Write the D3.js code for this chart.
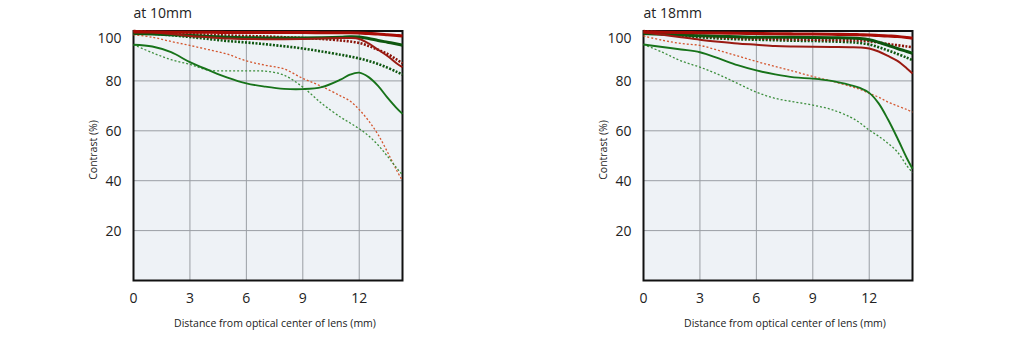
<!DOCTYPE html>
<html>
<head>
<meta charset="utf-8">
<script src="https://cdn.jsdelivr.net/npm/d3@7"></script>
<style>
  html, body { margin: 0; padding: 0; background: #ffffff; }
  svg { display: block; }
  text { font-family: "Open Sans", "Noto Sans", "DejaVu Sans", sans-serif; fill: #222; }
</style>
</head>
<body>
<svg id="chart" width="1021" height="338"></svg>
<script>
// ---------------- data ----------------
const titles = ["at 10mm", "at 18mm"];
const xTicks = [0, 3, 6, 9, 12];
const yTicks = [20, 40, 60, 80, 100];
const xMax = 14.3;
const xLabel = "Distance from optical center of lens (mm)";
const yLabel = "Contrast (%)";

// sample positions (mm from optical center)
const dist = [0, 1, 2, 3, 4, 5, 6, 7, 8, 9, 10, 11, 11.5, 12, 12.5, 13, 13.5, 14, 14.3];

// at 10mm
const w10_10S_f8  = [99.6,99.6,99.5,99.5,99.5,99.4,99.4,99.4,99.4,99.4,99.3,99.3,99.3,99.2,99,98.8,98.5,98.2,98];
const w10_10S     = [100,99.5,98.8,98,97.5,97,96.8,96.7,96.7,96.8,97,97.2,97.2,96.8,95,92.5,90,87,85.5];
const w10_10M_f8  = [100,99.6,99.2,98.8,98.5,98.2,98,97.8,97.5,97.2,96.8,96.2,95.8,95.2,94,92.5,90.8,88.5,87];
const w10_30S_f8  = [99,98.8,98.5,98.2,97.8,97.5,97.3,97.2,97.2,97.2,97.3,97.5,97.7,97.6,97,96.2,95.5,94.8,94.3];
const w10_30M_f8  = [99.5,99,98.3,97.6,96.8,96,95.4,94.7,93.9,93,91.8,90.5,89.8,89,88,86.8,85.3,83.6,82.5];
const w10_10M     = [98.5,97.5,95.8,94.2,92.5,90.7,88,86.3,84.8,81,77.8,74,72,68.5,64,58.5,51.5,44,40];
const w10_30S     = [94.5,93.8,91.5,87.5,84.3,81.3,79,77.7,76.8,76.7,77.5,80.5,82.5,83.3,81.5,78,73.3,69,66.8];
const w10_30M     = [94.5,91.3,88.5,86.6,84.3,84,84,83.9,82.3,77.5,71,65.5,63.2,60.8,58,54.3,49.8,45,42.3];

// at 18mm
const w18_10S_f8  = [99.6,99.5,99.4,99.3,99.2,99.1,99,98.9,98.8,98.8,98.7,98.6,98.5,98.4,98.2,98,97.8,97.4,97.1];
const w18_10S     = [99.5,98.5,97.5,96.5,95.7,95,94.5,94,93.8,93.7,93.6,93.5,93.4,93,91.8,90,88,85,83];
const w18_10M_f8  = [100,99.3,98.6,98,97.5,97.2,97,96.8,96.7,96.5,96.4,96.3,96.2,95.9,95.4,94.8,94.3,93.8,93.5];
const w18_30S_f8  = [99,98.7,98.4,98.1,97.9,97.7,97.5,97.5,97.5,97.4,97.3,97.2,97,96.5,95.5,94.3,93,91.8,91];
const w18_30M_f8  = [99.5,98.8,98.1,97.5,97,96.7,96.5,96.3,96.1,96,95.8,95.5,95.2,94.6,93.5,92.2,90.8,89.3,88.3];
const w18_10M     = [98,96.3,95,94.2,92.2,90,87.8,85.8,83.8,81.8,79.9,77.8,76.6,75,73.5,71.5,70,68.5,67.5];
const w18_30S     = [94.6,93.6,92.6,91.5,89,86.3,84.2,82.6,81.4,80.9,80,78.3,77.2,75.2,71,64.5,57,49,44.8];
const w18_30M     = [94.6,91.5,88,85.5,82.5,79,75.5,73,71.6,70.3,68.5,65.5,63.2,60.3,57.8,55,51.5,46,43.3];

// ---------------- styles ----------------
const styles = {
  f10M:   { color: "#d4562e", width: 1.3, dash: "2,2" },
  f30M:   { color: "#3d8f3d", width: 1.3, dash: "2,2" },
  f30S:   { color: "#17731a", width: 1.9, dash: null },
  e30M:   { color: "#0d560f", width: 2.6, dash: "2,1.5" },
  e10M:   { color: "#8a1208", width: 2.6, dash: "2,1.5" },
  e30S:   { color: "#0d560f", width: 3, dash: null },
  f10S:   { color: "#9a1a12", width: 2, dash: null },
  e10S:   { color: "#a80c06", width: 3.2, dash: null }
};

const panels = [
  { title: titles[0], dx: 0, series: [
    ["f10M", w10_10M], ["f30M", w10_30M], ["f30S", w10_30S], ["e30M", w10_30M_f8],
    ["e10M", w10_10M_f8], ["e30S", w10_30S_f8], ["f10S", w10_10S], ["e10S", w10_10S_f8]
  ]},
  { title: titles[1], dx: 510, series: [
    ["f10M", w18_10M], ["f30M", w18_30M], ["f30S", w18_30S], ["e30M", w18_30M_f8],
    ["e10M", w18_10M_f8], ["e30S", w18_30S_f8], ["f10S", w18_10S], ["e10S", w18_10S_f8]
  ]}
];

// ---------------- drawing ----------------
const svg = d3.select("#chart");
const pLeft = 133.5, pRight = 402.5, pTop = 31, pBottom = 280.5;

panels.forEach((p, idx) => {
  const g = svg.append("g").attr("transform", `translate(${p.dx},0)`);
  const x = d3.scaleLinear().domain([0, xMax]).range([pLeft, pRight]);
  const y = d3.scaleLinear().domain([0, 100]).range([pBottom, pTop]);

  g.append("rect")
    .attr("x", pLeft).attr("y", pTop)
    .attr("width", pRight - pLeft).attr("height", pBottom - pTop)
    .attr("fill", "#eef2f6");

  // grid
  g.selectAll(".vg").data(xTicks.filter(d => d > 0)).join("line")
    .attr("x1", d => x(d)).attr("x2", d => x(d))
    .attr("y1", pTop).attr("y2", pBottom)
    .attr("stroke", "#9a9ea4").attr("stroke-width", 1);
  g.selectAll(".hg").data(yTicks.filter(d => d < 100)).join("line")
    .attr("x1", pLeft).attr("x2", pRight)
    .attr("y1", d => y(d)).attr("y2", d => y(d))
    .attr("stroke", "#9a9ea4").attr("stroke-width", 1);

  // frame
  g.append("rect")
    .attr("x", pLeft).attr("y", pTop)
    .attr("width", pRight - pLeft).attr("height", pBottom - pTop)
    .attr("fill", "none").attr("stroke", "#111").attr("stroke-width", 2);

  // curves
  const line = d3.line()
    .x((d, i) => x(dist[i]))
    .y(d => y(d))
    .curve(d3.curveCatmullRom.alpha(0.5));

  p.series.forEach(([key, vals]) => {
    const s = styles[key];
    g.append("path")
      .datum(vals)
      .attr("d", line)
      .attr("fill", "none")
      .attr("stroke", s.color)
      .attr("stroke-width", s.width)
      .attr("stroke-dasharray", s.dash)
      .attr("stroke-linejoin", "round");
  });

  // tick labels
  g.selectAll(".xt").data(xTicks).join("text")
    .attr("x", d => x(d)).attr("y", 298)
    .attr("dy", "0.35em")
    .attr("text-anchor", "middle")
    .attr("font-size", 14)
    .text(d => d);

  g.selectAll(".yt").data(yTicks).join("text")
    .attr("x", 121.5)
    .attr("y", d => d === 100 ? y(d) + 7 : y(d))
    .attr("dy", "0.35em")
    .attr("text-anchor", "end")
    .attr("font-size", 14)
    .text(d => d);

  // titles
  g.append("text")
    .attr("x", pLeft).attr("y", 13)
    .attr("dy", "0.35em")
    .attr("font-size", 14)
    .text(p.title);

  g.append("text")
    .attr("x", (pLeft + pRight) / 2 + 7).attr("y", 323)
    .attr("dy", "0.35em")
    .attr("text-anchor", "middle")
    .attr("font-size", 10.5)
    .text(xLabel);

  g.append("text")
    .attr("transform", `translate(93,150) rotate(-90)`)
    .attr("dy", "0.35em")
    .attr("text-anchor", "middle")
    .attr("font-size", 10.5)
    .text(yLabel);
});
</script>
</body>
</html>
